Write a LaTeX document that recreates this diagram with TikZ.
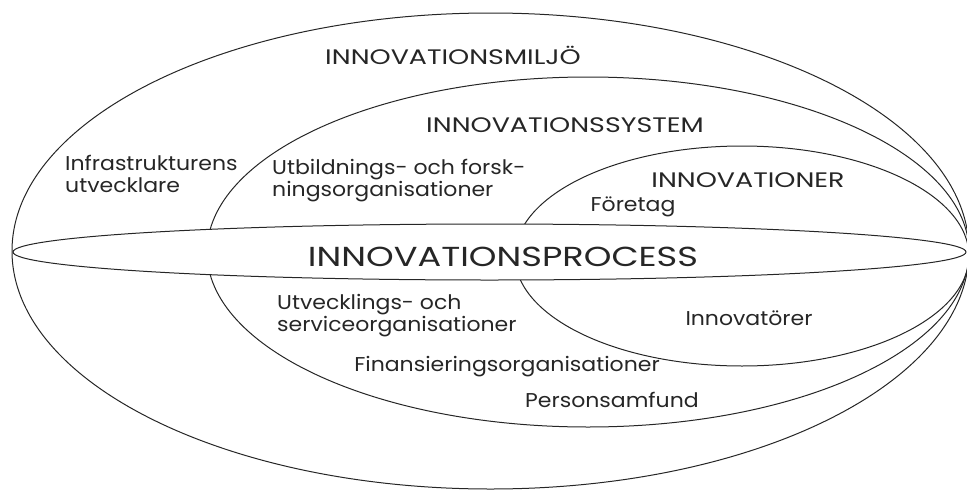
\documentclass[tikz,border=0pt]{standalone}
\usepackage{fontspec}
\setmainfont{Poppins}
\newfontfamily\widefont[FakeStretch=1.28]{Poppins}
\newfontfamily\labelfont[FakeStretch=1.1]{Poppins}

\begin{document}
\begin{tikzpicture}[x=1pt,y=-1pt,
  ring/.style={draw=black!85,line width=1pt},
  small/.style={text=black!85,inner sep=0pt,align=left,
    font=\labelfont\fontsize{20}{22}\selectfont},
  big/.style={text=black!85,inner sep=0pt,
    font=\widefont\fontsize{21}{24}\selectfont}]
  \useasboundingbox (0,0) rectangle (967,493);
  % the rings, all touching at the right
  \draw[ring] (490.5,251) ellipse [x radius=478.5, y radius=238];
  \draw[ring] (588,252) ellipse [x radius=381, y radius=175];
  \draw[ring] (742,256) ellipse [x radius=227, y radius=110];
  \filldraw[ring,fill=white] (489.5,252) ellipse [x radius=476.5, y radius=28];

  \node[big] (miljo) at (453,55) {INNOVATIONSMILJÖ};
  \node[big] (system) at (565,125) {INNOVATIONSSYSTEM};
  \node[big] (innov) at (748,180) {INNOVATIONER};
  \node[big,font=\widefont\fontsize{27.5}{30}\selectfont] (process) at (503,257) {INNOVATIONSPROCESS};

  \node[small,anchor=west] (infra) at (65,174) {Infrastrukturens\\utvecklare};
  \node[small,anchor=west] (utbild) at (272,181) {Utbildnings- och forsk-\\ningsorganisationer};
  \node[small] (foretag) at (633,207) {Företag};
  \node[small,anchor=west] (utveckl) at (277,316) {Utvecklings- och\\serviceorganisationer};
  \node[small] (innovatorer) at (749,318) {Innovatörer};
  \node[small] (finans) at (507,367) {Finansieringsorganisationer};
  \node[small] (person) at (612,400) {Personsamfund};
\end{tikzpicture}
\end{document}
